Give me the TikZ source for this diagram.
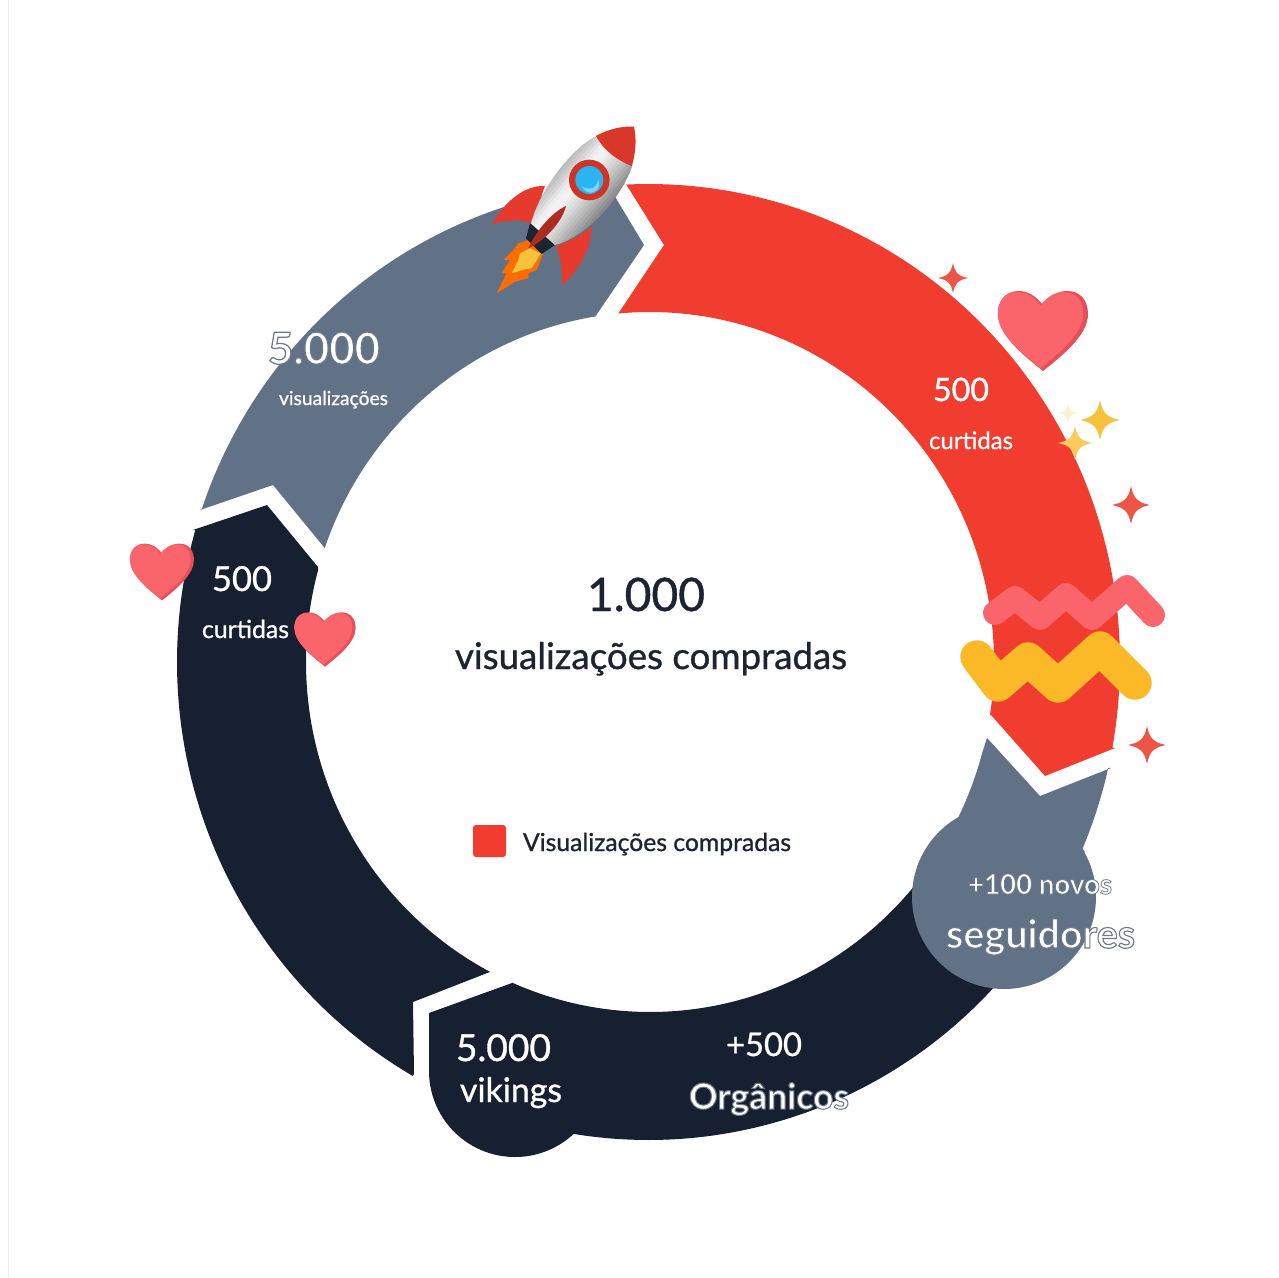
\documentclass[tikz,border=0pt]{standalone}
\usepackage{graphicx}
\usepackage{fontspec}
\setmainfont{Lato}[RawFeature={embolden=0.9}]
\newfontfamily\plainf{Lato}
\definecolor{cred}{HTML}{F13D2F}
\definecolor{cgrey}{HTML}{627286}
\definecolor{cdark}{HTML}{172030}
\definecolor{cink}{HTML}{1B2430}
\definecolor{cheart}{HTML}{FA656B}
\definecolor{cheartd}{HTML}{E44F5A}
\definecolor{cgold}{HTML}{FBB827}
\definecolor{cstar}{HTML}{EE5548}
\definecolor{cstarg}{HTML}{F9C23C}
\definecolor{cblue}{HTML}{2BB3F3}
\definecolor{cbluel}{HTML}{7FD4FA}
\newcommand{\ox}{648.5+471.5*cos(\t)}
\newcommand{\oy}{662+478*sin(\t)}
\newcommand{\ix}{650+344*cos(\t)}
\newcommand{\iy}{662+350*sin(\t)}
\newcommand{\hrtpath}{(0,-26) .. controls (-8,-36) and (-16,-40) .. (-24,-40) .. controls (-38,-40) and (-45,-30) .. (-45,-17) .. controls (-45,4) and (-20,24) .. (0,40) .. controls (20,24) and (45,4) .. (45,-17) .. controls (45,-30) and (38,-40) .. (24,-40) .. controls (16,-40) and (8,-36) .. (0,-26) -- cycle}
\newcommand{\hrt}[3]{\begin{scope}[shift={(#1,#2)},scale=#3]
\fill[cheartd] \hrtpath;
\begin{scope}[shift={(-2.5,-1)},scale=.95]\fill[cheart] \hrtpath;\end{scope}
\end{scope}}
\newcommand{\sparkle}[4]{\begin{scope}[shift={(#1,#2)},scale=#3]
\fill[#4] (0,-1) .. controls (.13,-.35) and (.35,-.13) .. (1,0) .. controls (.35,.13) and (.13,.35) .. (0,1) .. controls (-.13,.35) and (-.35,.13) .. (-1,0) .. controls (-.35,-.13) and (-.13,-.35) .. (0,-1) -- cycle;
\end{scope}}
\newcommand{\fitw}[2]{\resizebox{\dimexpr #1pt*3/4\relax}{!}{#2}}
\newcommand{\outl}[1]{{\plainf\bfseries\special{pdf:code 2 Tr 0.28 w 0.42 0.47 0.53 RG}#1\special{pdf:code 0 Tr}}}
\tikzset{txt/.style={anchor=base west,inner sep=0pt,outer sep=0pt,text=white},
 dtxt/.style={txt,text=cink},
 arcp/.style={samples=90,variable=\t},
 rktred/.style={fill=cred!95!black}}
\begin{document}
\begin{tikzpicture}[x=0.75pt,y=-0.75pt]
\useasboundingbox (0,0) rectangle (1279,1278);
\fill[white] (0,0) rectangle (1279,1278);
\draw[color=black!7,line width=.75pt] (8,0) -- (8,1278);
% ring segments
\fill[cgrey] (200,510) -- plot[arcp,domain=-161.5:-94.8] ({\ox},{\oy}) -- (617,200) -- (644,245) -- (595,317) -- plot[arcp,domain=-99.2:-161] ({\ix},{\iy}) -- (273,485) -- cycle;
\fill[cred] (626,184) -- plot[arcp,domain=-92.7:10.3] ({\ox},{\oy}) -- (1115,748) -- (1045,776) -- (991,715) -- plot[arcp,domain=8.7:-95.3] ({\ix},{\iy}) -- (664,245) -- cycle;
\fill[cdark] (193,530) -- (267,505) -- (318,567) -- plot[arcp,domain=195.3:117.7] ({\ix},{\iy}) -- (413,1002) -- (414,1074) -- plot[arcp,domain=120:196] ({\ox},{\oy}) -- cycle;
\fill[cdark] (429,1013) -- (512,983) -- plot[arcp,domain=113.6:35] ({\ix},{\iy}) -- plot[arcp,domain=35:99.3] ({\ox},{\oy}) -- plot[arcp,domain=47:180] ({515+86*cos(\t)},{1071+86*sin(\t)}) -- cycle;
\fill[cgrey] (987,738) -- plot[arcp,domain=15:28] ({\ix},{\iy}) -- (1004,897) -- (1085,852) -- plot[arcp,domain=23:12.8] ({\ox},{\oy}) -- (1111,768) -- (1040,796) -- cycle;
\fill[cgrey] (1004,897) circle[radius=92];
% waves
\draw[cheart,line width=18pt,line cap=round,line join=round] (995,613) -- (1015,598) -- (1040,618) -- (1066,595) -- (1092,618) -- (1127,587) -- (1153,615);
\draw[cgold,line width=25pt,line cap=round,line join=round] (977,657) -- (998,685) -- (1028,659) -- (1058,686) -- (1100,648) -- (1135,683);
% hearts
\hrt{1043}{331}{1}
\hrt{162}{572}{.71}
\hrt{325}{639.5}{.68}
% sparkles
\sparkle{953}{278}{15}{cstar}
\sparkle{1100}{420}{20}{cstarg}
\sparkle{1075}{443}{17}{cstarg!85!white}
\sparkle{1068}{413}{9}{cstarg!25!white}
\sparkle{1131}{505}{19}{cstar}
\sparkle{1147}{745}{19}{cstar}
% rocket
\begin{scope}[shift={(460,110)},scale=.3333]
\fill[rktred] (255,228) .. controls (190,225) and (130,280) .. (95,345) .. controls (140,325) and (190,330) .. (215,340) -- cycle;
\fill[rktred] (395,350) .. controls (395,420) and (350,490) .. (305,525) .. controls (310,480) and (300,440) .. (288,408) .. controls (330,395) and (370,370) .. (395,350) -- cycle;
\fill[orange!85!red] (205,390) -- (175,400) -- (160,420) -- (130,450) -- (150,450) -- (125,490) -- (140,490) -- (110,550) -- (165,515) -- (205,505) -- (205,490) -- (230,480) -- (250,430) -- cycle;
\fill[cstarg] (210,415) -- (180,430) -- (175,450) -- (155,490) -- (195,478) -- (215,475) -- (243,430) -- cycle;
\fill[cink] (210,340) -- (285,405) -- (245,432) -- (198,385) -- cycle;
\begin{scope}
\clip (520,60) -- (408,78) .. controls (330,120) and (240,240) .. (213,340) -- (285,405) .. controls (380,380) and (480,270) .. (517,168) -- cycle;
\foreach \d/\g in {-110/70,-100/70,-90/72,-80/76,-70/80,-60/84,-50/89,-40/93,-30/95,-20/95,-10/93,0/90,10/87,20/84,30/80,40/76,50/72,60/68,70/63,80/58,90/54,100/50,110/50,120/50}
 \draw[color=white!\g!black,line width=3pt] ({375+.763*\d-.646*420},{228+.646*\d+.763*420}) -- ({375+.763*\d+.646*420},{228+.646*\d-.763*420});
\end{scope}
\fill[cred!90!black] (408,78) .. controls (450,55) and (490,48) .. (522,50) .. controls (530,85) and (528,130) .. (515,168) .. controls (470,150) and (430,120) .. (408,78) -- cycle;
\fill[cred!85!black] (388,210) circle[radius=61];
\fill[cblue] (388,210) circle[radius=42];
\fill[cbluel] (392,222) circle[radius=26];
\fill[cblue] (386,208) circle[radius=28];
\fill[cred!72!black] (318,288) .. controls (270,310) and (225,370) .. (205,415) .. controls (250,395) and (305,340) .. (318,288) -- cycle;
\end{scope}
% texts
\node[dtxt] (t1) at (587,611) {\fitw{118}{1.000}};
\node[dtxt] (t2) at (455,669) {\fitw{392}{visualizações compradas}};
\fill[cred,rounded corners=2.2pt] (473,825) rectangle (506,857);
\node[dtxt] (t3) at (523,851) {\fitw{268}{Visualizações compradas}};
\node[txt] (t4) at (268,364) {\fitw{112}{\outl{5.000}}};
\node[txt] (t5) at (279,405) {\fitw{109}{visualizações}};
\node[txt] (t6) at (933,401) {\fitw{56}{500}};
\node[txt] (t7) at (929,449) {\fitw{84}{curtidas}};
\node[txt] (t8) at (212,591) {\fitw{60}{500}};
\node[txt] (t9) at (202,638) {\fitw{87}{curtidas}};
\node[txt] (t10) at (968,894) {\fitw{144}{\outl{+100 novos}}};
\node[txt] (t11) at (946,948) {\fitw{189}{\outl{seguidores}}};
\node[txt] (t12) at (456,1061) {\fitw{95}{5.000}};
\node[txt] (t13) at (460,1102) {\fitw{102}{vikings}};
\node[txt] (t14) at (726,1056) {\fitw{76}{+500}};
\node[txt] (t15) at (689,1109) {\fitw{160}{\outl{Orgânicos}}};
\end{tikzpicture}
\end{document}
